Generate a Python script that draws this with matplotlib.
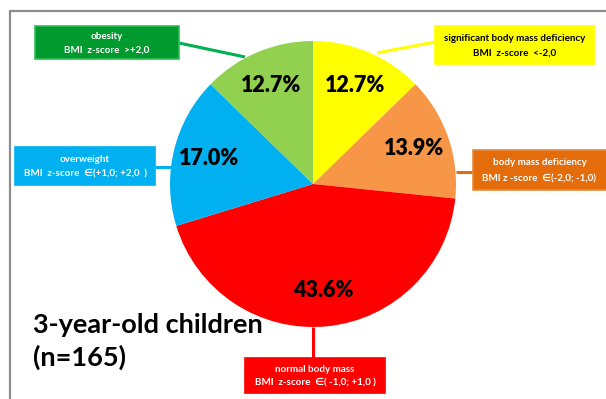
import matplotlib.pyplot as plt
from matplotlib.patches import Rectangle
from matplotlib.lines import Line2D

plt.rcParams['font.family'] = ['Lato', 'DejaVu Sans']

# BMI categories of 3-year-old children, clockwise from 12 o'clock
categories = ["significant body mass deficiency", "body mass deficiency",
              "normal body mass", "overweight", "obesity"]
shares = [12.7, 13.9, 43.6, 17.0, 12.7]
slice_colors = ["#FFFF00", "#F79646", "#FF0000", "#00B0F0", "#92D050"]

# callout box texts
box_titles = ["significant body mass deficiency", "body mass deficiency",
              "normal body mass", "overweight", "obesity"]
box_ranges = ["BMI  z-score  <-2,0", "BMI z -score  \u2208(-2,0; -1,0)",
              "BMI  z-score  \u2208( -1,0; +1,0 )",
              "BMI  z-score  \u2208(+1,0; +2,0  )", "BMI  z-score  >+2,0"]

W, H = 606, 399
fig = plt.figure(figsize=(W / 100, H / 100), dpi=100)
ax = fig.add_axes([0, 0, 1, 1])
ax.set_xlim(0, W)
ax.set_ylim(H, 0)
ax.axis("off")

# frame of the chart area
ax.add_line(Line2D([10, 10, W], [H, 10.5, 10.5], color="#8c8c8c", lw=1.6))

# pie drawn in a separate axes so y is not inverted
cx, cy, r = 313, 184, 143
pax = fig.add_axes([(cx - r) / W, 1 - (cy + r) / H, 2 * r / W, 2 * r / H])
pax.pie(shares, colors=slice_colors, startangle=90, counterclock=False,
        autopct="%.1f%%", pctdistance=0.75, radius=1,
        textprops=dict(fontsize=15.5, fontweight="heavy", color="black"),
        wedgeprops=dict(linewidth=0))
pax.set_xlim(-1, 1)
pax.set_ylim(-1, 1)
pax.set_aspect("equal")
pax.axis("off")

# callout boxes: (x0, y0, x1, y1), face, edge, text colour
boxes = [
    ((435, 26, 594, 64), "#FFFF00", "#FFFF00", "black"),
    ((473, 150, 610, 190), "#E46C0A", "#E88A3C", "white"),
    ((245, 358, 385, 393), "#FF0000", "#FF0000", "white"),
    ((15, 147, 155, 185), "#00B0F0", "#00B0F0", "white"),
    ((35, 26, 179, 59), "#009A2E", "#2DBF55", "white"),
]
# connector lines from box to slice
leaders = [
    ([377, 435], [53, 42], "#FFFF00"),
    ([456, 473], [172, 172], "#E46C0A"),
    ([313, 313], [327, 358], "#FF0000"),
    ([155, 172], [167, 167], "#00B0F0"),
    ([179, 245], [43, 57], "#00B050"),
]
for xs, ys, c in leaders:
    ax.plot(xs, ys, color=c, lw=2.2, solid_capstyle="butt", zorder=1)

for (x0, y0, x1, y1), fc, ec, tc in boxes:
    ax.add_patch(Rectangle((x0, y0), x1 - x0, y1 - y0, facecolor=fc,
                           edgecolor=ec, lw=1.2, zorder=2))

for ((x0, y0, x1, y1), fc, ec, tc), t1, t2 in zip(boxes, box_titles, box_ranges):
    xm = (x0 + min(x1, W)) / 2
    h = y1 - y0
    ax.text(xm, y0 + h * 0.32, t1, ha="center", va="center", fontsize=7.1,
            fontweight="bold", color=tc, zorder=3)
    ax.text(xm, y0 + h * 0.72, t2, ha="center", va="center", fontsize=7.1,
            fontweight="bold", color=tc, zorder=3)

ax.text(33, 325, "3-year-old children", ha="left", va="center",
        fontsize=19.5, fontweight="bold", color="black")
ax.text(33, 357, "(n=165)", ha="left", va="center",
        fontsize=19.5, fontweight="bold", color="black")

fig.savefig("out.png", dpi=100)
